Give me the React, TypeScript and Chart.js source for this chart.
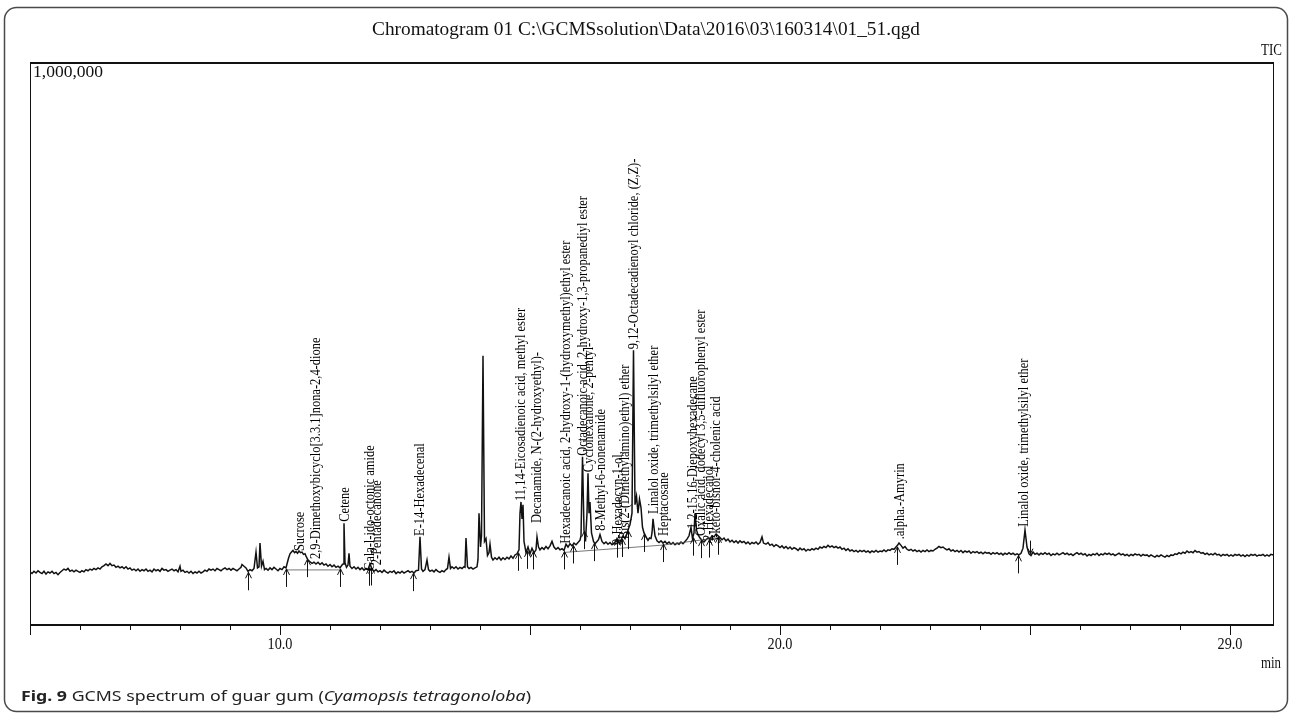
import { useEffect, useRef } from "react";
import { Chart, registerables } from "chart.js";

Chart.register(...registerables);

const CANVAS_W = 1292;
const CANVAS_H = 717;

// Retention-time window (min) and full-scale TIC counts
const timeMin = 5.0;
const timeMax = 29.88;
const fullScale = 1000000;

const axisLabelTimes = [10, 20, 29];
const majorTickTimes = [5, 10, 15, 20, 25, 29];
const minorTickTimes = [6, 7, 8, 9, 11, 12, 13, 14, 16, 17, 18, 19, 21, 22, 23, 24, 26, 27, 28];

// TIC trace: [retention time (min), intensity (x1000 counts)]
const traceEarly: [number, number][] = [
  [5.0, 96], [5.04, 93], [5.08, 97], [5.12, 94], [5.16, 98], [5.2, 95], [5.24, 93], [5.28, 97], [5.32, 92], [5.36, 96],
  [5.4, 94], [5.44, 97], [5.48, 93], [5.52, 95], [5.56, 91], [5.6, 95], [5.64, 98], [5.68, 101], [5.72, 99], [5.76, 102],
  [5.8, 97], [5.84, 99], [5.88, 96], [5.92, 99], [5.96, 97], [6.0, 95], [6.04, 98], [6.08, 96], [6.12, 100], [6.16, 98],
  [6.2, 101], [6.24, 99], [6.28, 102], [6.32, 100], [6.36, 103], [6.4, 101], [6.44, 105], [6.48, 107], [6.52, 110], [6.56, 107],
  [6.6, 111], [6.64, 107], [6.68, 108], [6.72, 104], [6.76, 106], [6.8, 103], [6.84, 105], [6.88, 102], [6.92, 105], [6.96, 101],
  [7.0, 103], [7.04, 99], [7.08, 101], [7.12, 98], [7.16, 101], [7.2, 97], [7.24, 100], [7.28, 98], [7.32, 101], [7.36, 97],
  [7.4, 99], [7.44, 96], [7.48, 101], [7.52, 98], [7.56, 100], [7.6, 97], [7.64, 102], [7.68, 99], [7.72, 100], [7.76, 97],
  [7.8, 99], [7.84, 101], [7.88, 98], [7.92, 100], [7.96, 96], [8.0, 106], [8.02, 97], [8.06, 99], [8.1, 95], [8.14, 97],
  [8.18, 94], [8.22, 97], [8.26, 93], [8.3, 96], [8.34, 94], [8.38, 97], [8.42, 94], [8.46, 96], [8.5, 99], [8.54, 97],
  [8.58, 101], [8.62, 99], [8.66, 101], [8.7, 98], [8.74, 102], [8.78, 100], [8.82, 98], [8.86, 101], [8.9, 103], [8.94, 100],
  [8.98, 102], [9.02, 99], [9.06, 102], [9.1, 100], [9.14, 98], [9.18, 101], [9.22, 104], [9.24, 109], [9.28, 106], [9.32, 103],
  [9.36, 97], [9.4, 100], [9.44, 98], [9.48, 102], [9.52, 131], [9.55, 103], [9.58, 105], [9.6, 147], [9.63, 106], [9.66, 115],
  [9.69, 100], [9.72, 102],
];

const traceMid: [number, number][] = [
  [9.76, 99], [9.8, 103], [9.84, 100], [9.88, 104], [9.92, 101], [9.96, 98], [10.0, 102], [10.04, 100], [10.08, 105], [10.12, 103],
  [10.14, 110], [10.17, 120], [10.2, 128], [10.23, 131], [10.26, 134], [10.29, 130], [10.32, 132], [10.35, 129], [10.38, 133], [10.41, 130],
  [10.44, 131], [10.47, 127], [10.5, 128], [10.53, 122], [10.56, 117], [10.6, 114], [10.64, 111], [10.68, 113], [10.72, 110], [10.76, 113],
  [10.8, 109], [10.84, 112], [10.88, 108], [10.92, 110], [10.96, 106], [11.0, 109], [11.04, 105], [11.08, 108], [11.12, 104], [11.16, 106],
  [11.2, 103], [11.24, 108], [11.26, 110], [11.28, 182], [11.3, 112], [11.33, 104], [11.36, 108], [11.38, 129], [11.4, 106], [11.44, 102],
  [11.48, 105], [11.52, 101], [11.56, 104], [11.6, 100], [11.64, 103], [11.68, 99], [11.72, 102], [11.76, 100], [11.8, 110], [11.84, 101],
  [11.88, 97], [11.92, 100], [11.96, 96], [12.0, 98], [12.04, 95], [12.08, 99], [12.12, 96], [12.16, 94], [12.2, 97], [12.24, 95],
  [12.28, 98], [12.32, 93], [12.36, 96], [12.4, 94], [12.44, 97], [12.48, 94], [12.52, 96], [12.56, 98], [12.6, 95], [12.64, 97],
  [12.68, 94], [12.72, 98], [12.77, 99], [12.8, 158], [12.83, 101], [12.86, 97], [12.9, 100], [12.94, 117], [12.97, 100], [13.0, 97],
  [13.04, 99], [13.08, 96], [13.12, 100], [13.16, 97], [13.2, 95], [13.24, 98], [13.28, 96], [13.32, 100], [13.35, 102], [13.38, 122],
  [13.41, 102], [13.44, 105], [13.48, 102], [13.52, 105], [13.56, 101], [13.6, 104], [13.64, 102], [13.68, 105], [13.7, 104], [13.72, 156],
  [13.75, 105], [13.78, 102], [13.82, 104], [13.86, 101], [13.9, 103], [13.94, 105],
];

const traceMain: [number, number][] = [
  [13.96, 118], [13.98, 200], [14.01, 140], [14.03, 160], [14.06, 479], [14.09, 150], [14.12, 155], [14.15, 125], [14.18, 130], [14.2, 145],
  [14.23, 122], [14.26, 117], [14.3, 121], [14.34, 118], [14.38, 122], [14.42, 117], [14.46, 121], [14.5, 118], [14.54, 122], [14.58, 119],
  [14.62, 124], [14.66, 120], [14.7, 126], [14.74, 128], [14.78, 135], [14.8, 200], [14.82, 220], [14.84, 190], [14.86, 215], [14.88, 150],
  [14.92, 130], [14.96, 140], [15.0, 128], [15.04, 138], [15.08, 130], [15.12, 135], [15.14, 158], [15.17, 140], [15.2, 135], [15.24, 139],
  [15.28, 136], [15.32, 141], [15.36, 137], [15.4, 142], [15.44, 150], [15.48, 140], [15.52, 136], [15.56, 139], [15.6, 135], [15.64, 137],
  [15.68, 134], [15.72, 145], [15.76, 140], [15.8, 146], [15.84, 142], [15.88, 147], [15.92, 144], [15.96, 148], [16.0, 152], [16.02, 160],
  [16.05, 300], [16.08, 170], [16.11, 150], [16.14, 200], [16.16, 271], [16.18, 200], [16.2, 220], [16.23, 165], [16.27, 150], [16.3, 146],
  [16.34, 150], [16.37, 153], [16.4, 162], [16.44, 150], [16.48, 146], [16.52, 149], [16.56, 145], [16.6, 148], [16.64, 144], [16.68, 147],
  [16.71, 150], [16.74, 155], [16.78, 147], [16.82, 152], [16.86, 160], [16.9, 155], [16.93, 162], [16.96, 170], [17.0, 180], [17.04, 200],
  [17.07, 489], [17.1, 215], [17.13, 230], [17.16, 200], [17.19, 225], [17.22, 210], [17.25, 175], [17.28, 165], [17.32, 158], [17.36, 152],
  [17.39, 156], [17.42, 155], [17.44, 165], [17.46, 190], [17.48, 175], [17.5, 160], [17.54, 151], [17.58, 148], [17.62, 151], [17.66, 147],
  [17.7, 150], [17.74, 146], [17.78, 149], [17.82, 145], [17.86, 148], [17.9, 144], [17.94, 147], [17.98, 145], [18.02, 149], [18.06, 146],
  [18.1, 150], [18.14, 154], [18.18, 160], [18.22, 175], [18.25, 155], [18.28, 165], [18.3, 200], [18.33, 170], [18.36, 162], [18.4, 156],
  [18.44, 152], [18.48, 149], [18.52, 153], [18.56, 156], [18.6, 154], [18.64, 160], [18.68, 158], [18.72, 163], [18.76, 160], [18.8, 157],
  [18.84, 153], [18.88, 156], [18.92, 151], [18.96, 154], [19.0, 149], [19.04, 152], [19.08, 148], [19.12, 151], [19.16, 147], [19.2, 151],
  [19.24, 148], [19.28, 150], [19.32, 146], [19.36, 149], [19.4, 145], [19.44, 148], [19.48, 146], [19.52, 149], [19.56, 145], [19.6, 148],
  [19.64, 158], [19.67, 147],
];

const traceLate: [number, number][] = [
  [19.72, 145], [19.76, 148], [19.8, 143], [19.84, 145], [19.88, 141], [19.92, 144], [19.96, 142], [20.0, 139], [20.04, 142], [20.08, 138],
  [20.12, 141], [20.16, 137], [20.2, 140], [20.24, 136], [20.28, 139], [20.32, 137], [20.36, 134], [20.4, 138], [20.44, 135], [20.48, 137],
  [20.52, 133], [20.56, 136], [20.6, 134], [20.64, 137], [20.68, 135], [20.72, 138], [20.76, 136], [20.8, 140], [20.84, 138], [20.88, 141],
  [20.92, 139], [20.96, 143], [21.0, 140], [21.04, 142], [21.08, 139], [21.12, 141], [21.16, 138], [21.2, 140], [21.24, 136], [21.28, 138],
  [21.32, 134], [21.36, 137], [21.4, 133], [21.44, 135], [21.48, 132], [21.52, 134], [21.56, 131], [21.6, 134], [21.64, 132], [21.68, 134],
  [21.72, 131], [21.76, 133], [21.8, 130], [21.84, 133], [21.88, 131], [21.92, 134], [21.96, 131], [22.0, 133], [22.04, 132], [22.08, 135],
  [22.12, 132], [22.16, 135], [22.2, 134], [22.24, 137], [22.28, 136], [22.32, 140], [22.35, 143], [22.38, 147], [22.42, 143], [22.46, 138],
  [22.5, 141], [22.54, 136], [22.58, 134], [22.62, 136], [22.66, 133], [22.7, 135], [22.74, 132], [22.78, 134], [22.82, 131], [22.86, 134],
  [22.9, 132], [22.94, 135], [22.98, 132], [23.02, 134], [23.06, 133], [23.1, 136], [23.14, 138], [23.18, 141], [23.22, 139], [23.26, 140],
  [23.3, 137], [23.34, 135], [23.38, 137], [23.42, 133], [23.46, 135], [23.5, 132], [23.54, 134], [23.58, 131], [23.62, 134], [23.66, 130],
  [23.7, 133], [23.74, 131], [23.78, 133], [23.82, 129], [23.86, 132], [23.9, 130], [23.94, 132], [23.98, 129], [24.02, 131], [24.06, 128],
  [24.1, 131], [24.14, 129], [24.18, 130], [24.22, 127], [24.26, 130], [24.3, 128], [24.34, 130], [24.38, 127], [24.42, 129], [24.46, 126],
  [24.5, 129], [24.54, 127], [24.58, 130], [24.62, 127], [24.66, 129], [24.7, 126], [24.74, 128], [24.78, 126], [24.82, 129], [24.86, 138],
  [24.9, 170], [24.94, 140], [24.98, 128], [25.02, 125], [25.06, 131], [25.1, 127], [25.14, 129], [25.18, 126], [25.22, 129], [25.26, 127],
  [25.3, 130], [25.34, 127], [25.38, 129], [25.42, 125], [25.46, 128], [25.5, 126], [25.54, 129], [25.58, 126], [25.62, 128], [25.66, 130],
  [25.7, 127], [25.74, 129], [25.78, 126], [25.82, 128], [25.86, 125], [25.9, 128], [25.94, 130], [25.98, 127], [26.02, 129], [26.06, 126],
  [26.1, 128], [26.14, 124], [26.18, 127], [26.22, 125], [26.26, 128], [26.3, 126], [26.34, 129], [26.38, 125], [26.42, 128], [26.46, 126],
  [26.5, 129], [26.54, 127], [26.58, 129], [26.62, 126], [26.66, 128], [26.7, 125], [26.74, 127], [26.78, 129], [26.82, 126], [26.86, 128],
  [26.9, 125], [26.94, 127], [26.98, 124], [27.02, 127], [27.06, 125], [27.1, 128], [27.14, 126], [27.18, 127], [27.22, 124], [27.26, 127],
  [27.3, 125], [27.34, 126], [27.38, 123], [27.42, 126], [27.46, 124], [27.5, 122], [27.54, 125], [27.58, 123], [27.62, 126], [27.66, 124],
  [27.7, 122], [27.74, 125], [27.78, 123], [27.82, 126], [27.86, 125], [27.9, 128], [27.94, 127], [27.98, 130], [28.02, 128], [28.06, 131],
  [28.1, 129], [28.14, 133], [28.18, 130], [28.22, 132], [28.26, 130], [28.3, 134], [28.34, 131], [28.38, 132], [28.42, 129], [28.46, 130],
  [28.5, 127], [28.54, 129], [28.58, 126], [28.62, 128], [28.66, 126], [28.7, 129], [28.74, 126], [28.78, 127], [28.82, 124], [28.86, 127],
  [28.9, 125], [28.94, 127], [28.98, 124], [29.02, 126], [29.06, 124], [29.1, 127], [29.14, 125], [29.18, 127], [29.22, 124], [29.26, 126],
  [29.3, 123], [29.34, 126], [29.38, 124], [29.42, 127], [29.46, 125], [29.5, 127], [29.54, 124], [29.58, 126], [29.62, 125], [29.66, 127],
  [29.7, 124], [29.74, 126], [29.78, 124], [29.82, 127], [29.86, 126], [29.88, 128],
];

// Identified peaks: retention time of the label, peak top (x1000 counts), compound name
const peakTimes = [
  10.4, 10.72, 11.3, 11.8, 11.94, 12.8, 14.82, 15.14, 15.72, 16.06, 16.18, 16.42,
  16.76, 16.9, 17.08, 17.48, 17.68, 18.26, 18.42, 18.58, 18.72, 22.4, 24.88,
];
const peakTops = [
  131, 117, 183, 96, 106, 158, 220, 181, 144, 300, 271, 167,
  142, 152, 489, 197, 158, 170, 158, 149, 144, 152, 174,
];
const peakNames = [
  "Sucrose",
  "2,9-Dimethoxybicyclo[3.3.1]nona-2,4-dione",
  "Cetene",
  "Gala-l-ido-octonic amide",
  "2-Pentadecanone",
  "E-14-Hexadecenal",
  "11,14-Eicosadienoic acid, methyl ester",
  "Decanamide, N-(2-hydroxyethyl)-",
  "Hexadecanoic acid, 2-hydroxy-1-(hydroxymethyl)ethyl ester",
  "Octadecanoic acid, 2-hydroxy-1,3-propanediyl ester",
  "Cyclohexanone, 2-pentyl-",
  "8-Methyl-6-nonenamide",
  "9-Hexadecyn-1-ol,",
  "Bis(2-(Dimethylamino)ethyl) ether",
  "9,12-Octadecadienoyl chloride, (Z,Z)-",
  "Linalol oxide, trimethylsilyl ether",
  "Heptacosane",
  "1,2-15,16-Diepoxyhexadecane",
  "Oxalic acid, dodecyl 3,5-difluorophenyl ester",
  "2-Hexadecanol",
  "3-keto-bisnor-4-cholenic acid",
  ".alpha.-Amyrin",
  "Linalol oxide, trimethylsilyl ether",
];

// Integration start/end marks (min) and drawn integration baselines
const integrationMarks = [
  9.36, 10.12, 10.54, 11.2, 11.78, 11.82, 12.66, 14.76, 14.94, 15.06, 15.68, 15.86,
  16.08, 16.28, 16.74, 16.84, 16.96, 17.28, 17.66, 18.26, 18.42, 18.58, 18.76, 22.34, 24.76,
];
const integrationEnds = [25.0];
const integrationBaselines: [number, number][] = [
  [10.12, 11.2],
  [15.68, 17.66],
  [17.66, 18.76],
];

const titleText = "Chromatogram 01 C:\\GCMSsolution\\Data\\2016\\03\\160314\\01_51.qgd";

const fullTrace = [...traceEarly, ...traceMid, ...traceMain, ...traceLate];

function levelAt(t: number): number {
  for (let i = 1; i < fullTrace.length; i++) {
    const [t0, v0] = fullTrace[i - 1];
    const [t1, v1] = fullTrace[i];
    if (t >= t0 && t <= t1) {
      const f = t1 === t0 ? 0 : (t - t0) / (t1 - t0);
      return (v0 + (v1 - v0) * f) * 1000;
    }
  }
  return fullTrace[fullTrace.length - 1][1] * 1000;
}

type Run = { text: string; font: string };

function drawFitted(
  ctx: CanvasRenderingContext2D,
  runs: Run[],
  x: number,
  y: number,
  width: number,
  align: "left" | "center" | "right",
) {
  let total = 0;
  const widths = runs.map((r) => {
    ctx.font = r.font;
    const w = ctx.measureText(r.text).width;
    total += w;
    return w;
  });
  const s = width / total;
  let x0 = x;
  if (align === "center") x0 = x - width / 2;
  if (align === "right") x0 = x - width;
  ctx.save();
  ctx.translate(x0, y);
  ctx.scale(s, 1);
  ctx.textAlign = "left";
  ctx.textBaseline = "middle";
  let cx = 0;
  runs.forEach((r, i) => {
    ctx.font = r.font;
    ctx.fillText(r.text, cx, 0);
    cx += widths[i];
  });
  ctx.restore();
}

const decorPlugin = {
  id: "gcmsDecor",
  afterDatasetsDraw(chart: any) {
    const ctx: CanvasRenderingContext2D = chart.ctx;
    const xs = chart.scales.x;
    const ys = chart.scales.y;
    const { left, right, top, bottom } = chart.chartArea;
    ctx.save();

    // outer rounded panel
    ctx.strokeStyle = "#4a4a4a";
    ctx.lineWidth = 1.5;
    ctx.beginPath();
    ctx.roundRect(4.5, 7.5, CANVAS_W - 9, CANVAS_H - 13, 12);
    ctx.stroke();

    // plot frame
    ctx.strokeStyle = "#111";
    ctx.lineWidth = 1;
    ctx.beginPath();
    ctx.moveTo(left + 0.5, top);
    ctx.lineTo(left + 0.5, bottom);
    ctx.moveTo(right - 0.5, top);
    ctx.lineTo(right - 0.5, bottom);
    ctx.stroke();
    ctx.lineWidth = 2;
    ctx.beginPath();
    ctx.moveTo(left, top + 1);
    ctx.lineTo(right, top + 1);
    ctx.moveTo(left, bottom - 1);
    ctx.lineTo(right, bottom - 1);
    ctx.stroke();

    // time axis ticks
    ctx.lineWidth = 1;
    ctx.beginPath();
    minorTickTimes.forEach((t) => {
      const x = Math.round(xs.getPixelForValue(t)) + 0.5;
      ctx.moveTo(x, bottom);
      ctx.lineTo(x, bottom + 4);
    });
    majorTickTimes.forEach((t) => {
      const x = Math.round(xs.getPixelForValue(t)) + 0.5;
      ctx.moveTo(x, bottom);
      ctx.lineTo(x, bottom + 9);
    });
    ctx.stroke();

    ctx.fillStyle = "#111";
    axisLabelTimes.forEach((t) => {
      drawFitted(ctx, [{ text: t.toFixed(1), font: "16px 'Liberation Serif'" }], xs.getPixelForValue(t), bottom + 19, 25, "center");
    });
    drawFitted(ctx, [{ text: "min", font: "16px 'Liberation Serif'" }], 1281, bottom + 38, 20, "right");

    // header texts
    drawFitted(ctx, [{ text: titleText, font: "18px 'Liberation Serif'" }], 646, 30, 548, "center");
    drawFitted(ctx, [{ text: "TIC", font: "16px 'Liberation Serif'" }], 1282, 51, 21, "right");
    drawFitted(ctx, [{ text: fullScale.toLocaleString("en-US"), font: "16px 'Liberation Serif'" }], 33, 73, 70, "left");

    // integration baselines
    ctx.strokeStyle = "#555";
    ctx.lineWidth = 0.8;
    ctx.beginPath();
    integrationBaselines.forEach(([a, b]) => {
      ctx.moveTo(xs.getPixelForValue(a), ys.getPixelForValue(levelAt(a)) + 2);
      ctx.lineTo(xs.getPixelForValue(b), ys.getPixelForValue(levelAt(b)) + 2);
    });
    ctx.stroke();

    // integration start marks (upward arrows under the trace)
    ctx.strokeStyle = "#111";
    ctx.lineWidth = 1;
    ctx.beginPath();
    integrationMarks.forEach((t) => {
      const x = Math.round(xs.getPixelForValue(t)) + 0.5;
      const y = ys.getPixelForValue(levelAt(t)) + 1;
      ctx.moveTo(x, y);
      ctx.lineTo(x, y + 18);
      ctx.moveTo(x - 3, y + 6);
      ctx.lineTo(x, y);
      ctx.lineTo(x + 3, y + 6);
    });
    integrationEnds.forEach((t) => {
      const x = Math.round(xs.getPixelForValue(t)) + 0.5;
      const y = ys.getPixelForValue(levelAt(t)) - 1;
      ctx.moveTo(x, y);
      ctx.lineTo(x, y - 13);
      ctx.moveTo(x - 2.5, y - 5);
      ctx.lineTo(x, y);
      ctx.lineTo(x + 2.5, y - 5);
    });
    ctx.stroke();

    // compound names, vertical, standing on their peaks
    ctx.fillStyle = "#000";
    ctx.font = "14px 'Liberation Serif'";
    ctx.textAlign = "left";
    ctx.textBaseline = "middle";
    peakNames.forEach((name, i) => {
      const x = xs.getPixelForValue(peakTimes[i]);
      const y = ys.getPixelForValue(peakTops[i] * 1000) - 1;
      ctx.save();
      ctx.translate(x, y);
      ctx.rotate(-Math.PI / 2);
      ctx.scale(0.89, 1);
      ctx.fillText(name, 0, 0);
      ctx.restore();
    });

    // caption
    ctx.fillStyle = "#222";
    drawFitted(
      ctx,
      [
        { text: "Fig. 9", font: "bold 15px 'Noto Sans'" },
        { text: " GCMS spectrum of guar gum (", font: "15px 'Noto Sans'" },
        { text: "Cyamopsis tetragonoloba", font: "italic 15px 'Noto Sans'" },
        { text: ")", font: "15px 'Noto Sans'" },
      ],
      21,
      697,
      510,
      "left",
    );

    ctx.restore();
  },
};

export default function App() {
  const canvasRef = useRef<HTMLCanvasElement | null>(null);

  useEffect(() => {
    const canvas = canvasRef.current;
    if (!canvas) return;
    const chart = new Chart(canvas, {
      type: "line",
      data: {
        datasets: [
          {
            label: "TIC",
            data: fullTrace.map(([t, k]) => ({ x: t, y: k * 1000 })),
            borderColor: "#111",
            borderWidth: 1.5,
            pointRadius: 0,
            tension: 0,
            fill: false,
          },
        ],
      },
      options: {
        responsive: false,
        animation: false,
        devicePixelRatio: 1,
        events: [],
        layout: { padding: { left: 30, right: 18, top: 62, bottom: 91 } },
        scales: {
          x: { type: "linear", min: timeMin, max: timeMax, display: false },
          y: { type: "linear", min: 0, max: fullScale, display: false },
        },
        plugins: {
          legend: { display: false },
          tooltip: { enabled: false },
          title: { display: false },
        },
      },
      plugins: [decorPlugin],
    });
    return () => chart.destroy();
  }, []);

  return (
    <div style={{ position: "absolute", left: 0, top: 0, width: CANVAS_W, height: CANVAS_H, background: "#fff" }}>
      <canvas ref={canvasRef} width={CANVAS_W} height={CANVAS_H} style={{ display: "block" }} />
    </div>
  );
}
